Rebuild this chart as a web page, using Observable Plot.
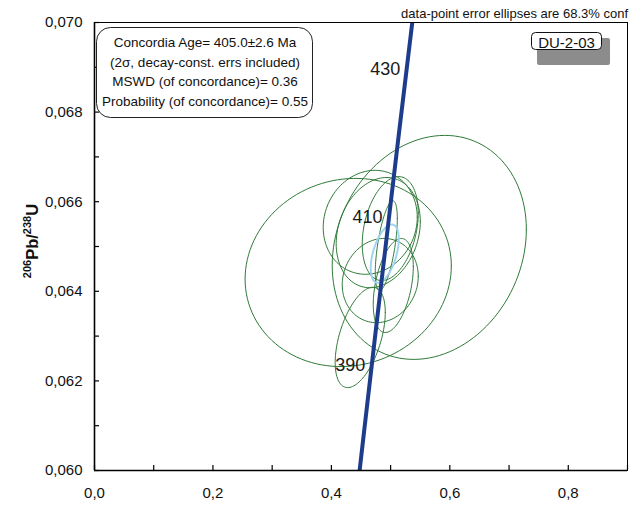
<!DOCTYPE html>
<html><head><meta charset="utf-8">
<script src="https://cdn.jsdelivr.net/npm/d3@7"></script>
<script src="https://cdn.jsdelivr.net/npm/@observablehq/plot@0.6"></script>
<style>
html,body{margin:0;padding:0;background:#fff;}
#chart{width:640px;height:505px;}
</style></head><body><div id="chart"></div>
<script>
// Concordia curve points (age Ma, 207Pb/235U, 206Pb/238U)
const concAge = [370, 380, 390, 400, 410, 420, 430, 440];
const concX = [0.43966, 0.45389, 0.46830, 0.48281, 0.49744, 0.51222, 0.52727, 0.54240];
const concY = [0.059075, 0.060720, 0.062366, 0.064016, 0.065667, 0.067322, 0.068979, 0.070638];
const ageLabels = [390, 410, 430];

// Data-point error ellipses: centre, semi-extents, correlation
const ellCx  = [0.5653, 0.4284, 0.4656, 0.4791, 0.4994, 0.4927, 0.4825, 0.5045, 0.4487];
const ellCy  = [0.06498, 0.06442, 0.06554, 0.06531, 0.06540, 0.06502, 0.06424, 0.06413, 0.06297];
const ellSx  = [0.1639, 0.1741, 0.0794, 0.0710, 0.0473, 0.0186, 0.0642, 0.0338, 0.0423];
const ellSy  = [0.00250, 0.00210, 0.00116, 0.00123, 0.00116, 0.00100, 0.00094, 0.00105, 0.00112];
const ellRho = [0.16, 0.07, 0.10, 0.20, 0.30, 0.60, 0.10, 0.40, 0.50];

// Concordia age ellipse
const ageEllCx = [0.4901];
const ageEllCy = [0.06484];
const ageEllSx = [0.0237];
const ageEllSy = [0.00065];
const ageEllRho = [0.5];

const xTickLabels = [0, 0.2, 0.4, 0.6, 0.8];
const xMinorTicks = [0, 0.1, 0.2, 0.3, 0.4, 0.5, 0.6, 0.7, 0.8, 0.9];
const yTickLabels = [0.060, 0.062, 0.064, 0.066, 0.068, 0.070];
const yMinorTicks = [0.060, 0.061, 0.062, 0.063, 0.064, 0.065, 0.066, 0.067, 0.068, 0.069, 0.070];

const FONT = "'Liberation Sans', Arial, Helvetica, sans-serif";
const W = 640, H = 505, ML = 94, MR = 13, MT = 22, MB = 35;
const TICK = 5;

function ellipse(id, cx, cy, sx, sy, rho, n = 120) {
  const pts = [];
  const k = Math.sqrt(1 - rho * rho);
  for (let j = 0; j <= n; j++) {
    const t = 2 * Math.PI * j / n;
    pts.push({id, x: cx + sx * Math.cos(t), y: cy + sy * (rho * Math.cos(t) + k * Math.sin(t))});
  }
  return pts;
}
const ellPts = ellCx.flatMap((_, i) => ellipse(i, ellCx[i], ellCy[i], ellSx[i], ellSy[i], ellRho[i]));
const agePts = ageEllCx.flatMap((_, i) => ellipse(i, ageEllCx[i], ageEllCy[i], ageEllSx[i], ageEllSy[i], ageEllRho[i]));
const conc = concAge.map((a, i) => ({age: a, x: concX[i], y: concY[i]}));
const ageLab = ageLabels.map(a => conc.find(c => c.age === a));

const plot = Plot.plot({
  width: W, height: H,
  marginLeft: ML, marginRight: MR, marginTop: MT, marginBottom: MB,
  style: {fontFamily: FONT, fontSize: "15px", color: "#111", background: "#fff"},
  x: {domain: [0, 0.9]},
  y: {domain: [0.060, 0.070]},
  marks: [
    Plot.line(ellPts, {x: "x", y: "y", z: "id", stroke: "#2f7a38", strokeWidth: 1, clip: true}),
    Plot.line(agePts, {x: "x", y: "y", z: "id", stroke: "#9fd3f0", strokeWidth: 2, strokeDasharray: "1.5,1.2", clip: true}),
    Plot.line(conc, {x: "x", y: "y", stroke: "#1d3c8c", strokeWidth: 4, clip: true}),
    Plot.text(ageLab, {x: "x", y: "y", text: d => String(d.age), textAnchor: "end", dx: -6.5, dy: 1, fontSize: 18, fill: "#1a1a1a"}),
    Plot.frame({stroke: "#000", strokeWidth: 1}),
    Plot.ruleX([0], {stroke: "#000", strokeWidth: 1.6}),
    Plot.ruleY([0.060], {stroke: "#000", strokeWidth: 1.6}),
    Plot.axisX({ticks: xMinorTicks, anchor: "bottom", tickSize: TICK, dy: -TICK, tickFormat: () => "", label: null, stroke: "#000", strokeWidth: 1.2}),
    Plot.axisY({ticks: yMinorTicks, anchor: "left", tickSize: TICK, dx: TICK, tickFormat: () => "", label: null, stroke: "#000", strokeWidth: 1.2}),
    Plot.axisX({ticks: xTickLabels, tickSize: 0, tickPadding: 17, tickFormat: d => d.toFixed(1).replace(".", ","), label: null, fontSize: 15}),
    Plot.axisY({ticks: yTickLabels, tickSize: 0, tickPadding: 12, tickFormat: d => d.toFixed(3).replace(".", ","), label: null, fontSize: 15})
  ]
});
document.getElementById("chart").appendChild(plot);

// annotations
const svg = d3.select(plot);
const ann = svg.append("g").attr("font-family", FONT).attr("fill", "#111");

// top note
ann.append("text").attr("x", 628).attr("y", 18).attr("text-anchor", "end")
  .attr("font-size", 13).text("data-point error ellipses are 68.3% conf");

// result box
ann.append("rect").attr("x", 96.5).attr("y", 27.5).attr("width", 216).attr("height", 90)
  .attr("rx", 14).attr("fill", "#fff").attr("stroke", "#222").attr("stroke-width", 1);
const boxLines = [
  "Concordia Age= 405.0±2.6 Ma",
  "(2σ, decay-const. errs included)",
  "MSWD (of concordance)= 0.36",
  "Probability (of concordance)= 0.55"
];
boxLines.forEach((s, i) => {
  ann.append("text").attr("x", 205).attr("y", 47 + i * 19.7).attr("text-anchor", "middle")
    .attr("font-size", 13.5).text(s);
});

// sample label with shadow
ann.append("rect").attr("x", 537).attr("y", 38).attr("width", 73).attr("height", 27)
  .attr("rx", 2).attr("fill", "#8c8c8c");
ann.append("rect").attr("x", 531.5).attr("y", 32.5).attr("width", 70).attr("height", 17)
  .attr("rx", 4).attr("fill", "#fff").attr("stroke", "#111").attr("stroke-width", 1);
ann.append("text").attr("x", 566.5).attr("y", 47.5).attr("text-anchor", "middle")
  .attr("font-size", 15).text("DU-2-03");

// y axis title with superscripts
const yl = ann.append("text").attr("transform", "translate(38,241) rotate(-90)")
  .attr("text-anchor", "middle").attr("font-weight", "bold").attr("font-size", 16.5);
yl.append("tspan").attr("font-size", 11).attr("dy", -7).text("206");
yl.append("tspan").attr("dy", 7).text("Pb/");
yl.append("tspan").attr("font-size", 11).attr("dy", -7).text("238");
yl.append("tspan").attr("dy", 7).text("U");
</script>
</body></html>
